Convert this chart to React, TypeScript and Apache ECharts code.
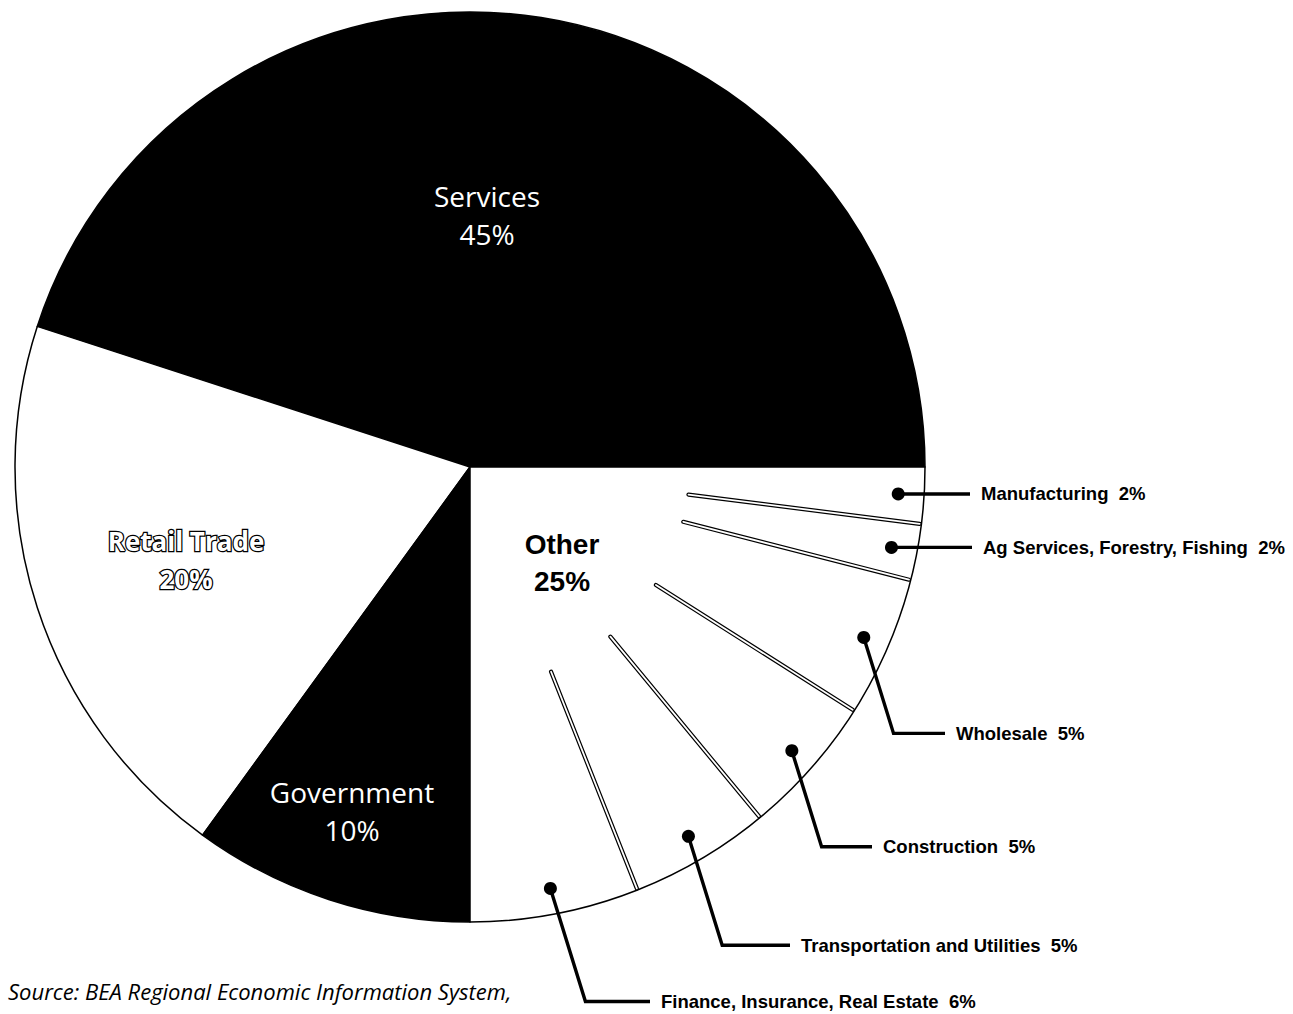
import React, { useEffect, useRef } from "react";
import * as echarts from "echarts";

// ---- data ----
const mainNames = ["Services", "Retail Trade", "Government", "Other"];
const mainValues = [45, 20, 10, 25];
const subNames = [
  "Finance, Insurance, Real Estate",
  "Transportation and Utilities",
  "Construction",
  "Wholesale",
  "Ag Services, Forestry, Fishing",
  "Manufacturing",
];
const subValues = [6, 5, 5, 5, 2, 2];
const sourceText = "Source: BEA Regional Economic Information System,";

// ---- layout ----
const CX = 470;
const CY = 467;
const R = 455;
const SEP_IN = 0.484;
const DOT_R = 0.943;
const mainLabelPos = [
  [487, 215],
  [186, 560],
  [352, 811],
  [562, 563],
];
const subLeaderDrop = [113, 109, 96, 96, 0, 0];
const subLineEndX = [650, 790, 872, 945, 972, 970];
const BOLD_SANS = "Liberation Sans";

export default function App() {
  const ref = useRef<HTMLDivElement>(null);
  useEffect(() => {
    if (!ref.current) return;
    const chart = echarts.init(ref.current, undefined, { renderer: "svg" });

    const otherStart = mainValues[0] + mainValues[1] + mainValues[2];
    const subRanges: number[][] = [];
    let acc = otherStart;
    subValues.forEach((v) => {
      subRanges.push([acc, acc + v]);
      acc += v;
    });

    const mainLabelStyles: any[] = [
      { color: "#fff", fontFamily: "Open Sans", fontSize: 28, lineHeight: 38 },
      {
        color: "#fff",
        fontFamily: "Open Sans",
        fontWeight: "bold",
        fontSize: 26,
        lineHeight: 38,
        textBorderColor: "#000",
        textBorderWidth: 2.5,
      },
      { color: "#fff", fontFamily: "Open Sans", fontSize: 28, lineHeight: 38 },
      {
        color: "#000",
        fontFamily: BOLD_SANS,
        fontWeight: "bold",
        fontSize: 28,
        lineHeight: 37,
      },
    ];
    const mainColors = ["#000", "#fff", "#000", "#fff"];

    chart.setOption({
      animation: false,
      backgroundColor: "#fff",
      polar: { center: [CX, CY], radius: R },
      angleAxis: {
        show: false,
        type: "value",
        min: 0,
        max: 100,
        startAngle: 0,
        clockwise: false,
      },
      radiusAxis: { show: false, type: "value", min: 0, max: 1 },
      graphic: [
        {
          type: "text",
          left: 8,
          top: 980,
          style: {
            text: sourceText,
            fill: "#000",
            fontFamily: "Open Sans",
            fontStyle: "italic",
            fontSize: 22,
          },
        },
      ],
      series: [
        {
          type: "pie",
          z: 1,
          silent: true,
          center: [CX, CY],
          radius: R,
          startAngle: 0,
          clockwise: false,
          avoidLabelOverlap: false,
          emphasis: { disabled: true },
          itemStyle: { borderColor: "#000", borderWidth: 1.5 },
          labelLine: { show: false },
          label: {
            show: true,
            position: "inside",
            formatter: "{b}\n{c}%",
          },
          labelLayout: (p: any) => ({
            x: mainLabelPos[p.dataIndex][0],
            y: mainLabelPos[p.dataIndex][1],
          }),
          data: mainNames.map((n, i) => ({
            name: n,
            value: mainValues[i],
            itemStyle: { color: mainColors[i] },
            label: { ...mainLabelStyles[i], align: "center" },
          })),
        },
        {
          type: "custom",
          z: 10,
          coordinateSystem: "polar",
          silent: true,
          clip: false,
          data: subRanges,
          renderItem: (params: any, api: any) => {
            const i = params.dataIndex;
            const start = api.value(0) as number;
            const end = api.value(1) as number;
            const mid = (start + end) / 2;
            const children: any[] = [];
            if (i > 0) {
              const a = api.coord([SEP_IN, start]);
              const b = api.coord([0.996, start]);
              children.push({
                type: "line",
                shape: { x1: a[0], y1: a[1], x2: b[0], y2: b[1] },
                style: { stroke: "#000", lineWidth: 4.2, lineCap: "round" },
              });
              children.push({
                type: "line",
                shape: { x1: a[0], y1: a[1], x2: b[0], y2: b[1] },
                style: { stroke: "#fff", lineWidth: 1.8, lineCap: "round" },
              });
            }
            const d = api.coord([DOT_R, mid]);
            const drop = subLeaderDrop[i];
            const elbow = [d[0] + drop * 0.31, d[1] + drop];
            const endX = subLineEndX[i];
            children.push({
              type: "polyline",
              shape: { points: [d, elbow, [endX, elbow[1]]] },
              style: { stroke: "#000", lineWidth: 3.4, fill: null },
            });
            children.push({
              type: "circle",
              shape: { cx: d[0], cy: d[1], r: 6.5 },
              style: { fill: "#000" },
            });
            children.push({
              type: "text",
              x: endX + 11,
              y: elbow[1],
              style: {
                text: subNames[i] + "  " + subValues[i] + "%",
                fill: "#000",
                fontFamily: BOLD_SANS,
                fontWeight: "bold",
                fontSize: 18.5,
                align: "left",
                verticalAlign: "middle",
              },
            });
            return { type: "group", children };
          },
        },
      ],
    });
    return () => chart.dispose();
  }, []);
  return (
    <div
      ref={ref}
      style={{ position: "fixed", left: 0, top: 0, width: 1293, height: 1014, background: "#fff" }}
    />
  );
}
